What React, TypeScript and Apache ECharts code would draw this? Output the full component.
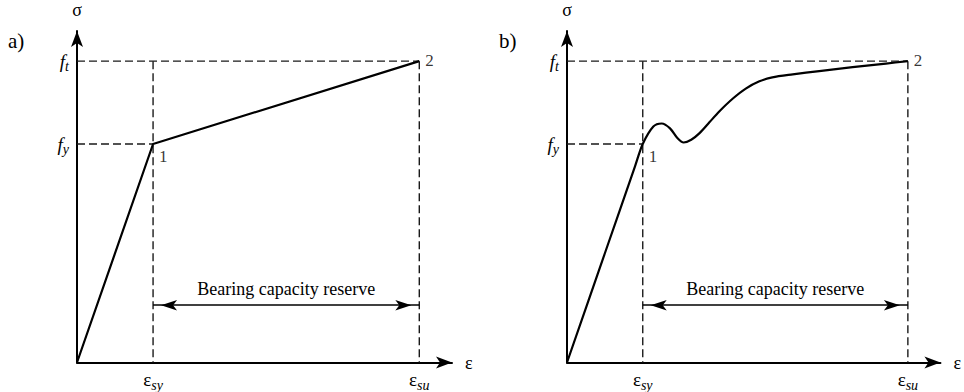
import React, { useEffect, useRef } from "react";
import * as echarts from "echarts";

// Characteristic strains and stresses (normalised: ε_sy = 1, f_t = 1)
const STRAIN_YIELD = 1.0; // ε_sy
const STRAIN_ULT = 4.5; // ε_su
const STRESS_YIELD = 0.725; // f_y
const STRESS_ULT = 1.0; // f_t

// Axis extents (arrow heads sit just past these)
const X_MAX = 4.93;
const Y_MAX = 1.1;
// Height of the "bearing capacity reserve" dimension arrow
const RESERVE_LEVEL = 0.19;

// a) idealised bilinear diagram
const bilinearCurve: [number, number][] = [
  [0, 0],
  [STRAIN_YIELD, STRESS_YIELD],
  [STRAIN_ULT, STRESS_ULT],
];

// b) real diagram with yield plateau dip and strain hardening
const realCurve: [number, number][] = [
  [0, 0],
  [0.5, 0.3625],
  [0.9, 0.6525],
  [STRAIN_YIELD, STRESS_YIELD],
  [1.14, 0.783],
  [1.25, 0.793],
  [1.36, 0.777],
  [1.46, 0.744],
  [1.54, 0.73],
  [1.64, 0.739],
  [1.75, 0.761],
  [1.88, 0.797],
  [2.01, 0.833],
  [2.19, 0.876],
  [2.36, 0.909],
  [2.54, 0.933],
  [2.71, 0.946],
  [2.98, 0.956],
  [3.33, 0.967],
  [3.77, 0.98],
  [4.21, 0.992],
  [STRAIN_ULT, STRESS_ULT],
];

const strainTicks = [STRAIN_YIELD, STRAIN_ULT];
const strainTickLabels = ["{e|ε}{s|sy}", "{e|ε}{s|su}"];
const stressTicks = [STRESS_YIELD, STRESS_ULT];
const stressTickLabels = ["{f|f}{s|y}", "{f|f}{s|t}"];
const pointLabels = ["1", "2"];
const panelLabels = ["a)", "b)"];
const reserveLabel = "Bearing capacity reserve";

const FONT = "'Liberation Serif', 'DejaVu Serif', serif";
const INK = "#000";
const GUIDE = "#1a1a1a";

const gridLefts = [77, 567];

const subRich = {
  e: { fontFamily: FONT, fontSize: 19, color: INK, lineHeight: 22 },
  f: { fontFamily: FONT, fontSize: 19, fontStyle: "italic", color: INK, lineHeight: 22 },
  s: {
    fontFamily: FONT,
    fontSize: 14,
    fontStyle: "italic",
    color: INK,
    lineHeight: 14,
    padding: [11, 0, 0, 0],
  },
};

function buildOption(): echarts.EChartsOption {
  const grids = gridLefts.map((left) => ({
    left,
    top: 31,
    width: 375,
    height: 336,
    containLabel: false,
  }));

  const xAxes = gridLefts.map((_, i) => ({
    type: "value" as const,
    gridIndex: i,
    min: 0,
    max: X_MAX,
    name: "ε",
    nameLocation: "end" as const,
    nameGap: 13,
    nameTextStyle: { fontFamily: FONT, fontSize: 18, color: INK, verticalAlign: "middle" as const },
    axisLine: {
      show: true,
      onZero: false,
      symbol: ["none", "arrow"],
      symbolSize: [9, 16],
      lineStyle: { color: INK, width: 2 },
    },
    axisTick: { show: false },
    splitLine: { show: false },
    axisLabel: {
      show: true,
      customValues: strainTicks,
      margin: 6,
      formatter: (v: number) => strainTickLabels[strainTicks.indexOf(v)] ?? "",
      rich: subRich,
    },
  }));

  const yAxes = gridLefts.map((_, i) => ({
    type: "value" as const,
    gridIndex: i,
    min: 0,
    max: Y_MAX,
    name: "σ",
    nameLocation: "end" as const,
    nameGap: 12,
    nameTextStyle: { fontFamily: FONT, fontSize: 18, color: INK, align: "center" as const },
    axisLine: {
      show: true,
      onZero: false,
      symbol: ["none", "arrow"],
      symbolSize: [9, 16],
      lineStyle: { color: INK, width: 2 },
    },
    axisTick: { show: false },
    splitLine: { show: false },
    axisLabel: {
      show: true,
      customValues: stressTicks,
      margin: 8,
      formatter: (v: number) => stressTickLabels[stressTicks.indexOf(v)] ?? "",
      rich: subRich,
    },
  }));

  const series: any[] = [];
  const curves = [bilinearCurve, realCurve];

  curves.forEach((curve, i) => {
    // dashed guide lines to the characteristic points
    const guides: [number, number][][] = [
      [
        [0, STRESS_ULT],
        [STRAIN_ULT, STRESS_ULT],
      ],
      [
        [0, STRESS_YIELD],
        [STRAIN_YIELD, STRESS_YIELD],
      ],
      [
        [STRAIN_YIELD, STRESS_ULT],
        [STRAIN_YIELD, 0],
      ],
      [
        [STRAIN_ULT, STRESS_ULT],
        [STRAIN_ULT, 0],
      ],
    ];
    guides.forEach((g) => {
      series.push({
        type: "line",
        xAxisIndex: i,
        yAxisIndex: i,
        data: g,
        symbol: "none",
        silent: true,
        lineStyle: { color: GUIDE, width: 1.4, type: [8, 4] },
        z: 1,
      });
    });

    // stress–strain curve
    series.push({
      type: "line",
      xAxisIndex: i,
      yAxisIndex: i,
      data: curve,
      symbol: "none",
      smooth: i === 1 ? 0.3 : false,
      lineStyle: { color: INK, width: 2.2 },
      z: 3,
      markLine: {
        silent: true,
        symbol: ["arrow", "arrow"],
        symbolSize: [8, 16],
        symbolOffset: [
          [0, 8],
          [0, 8],
        ],
        lineStyle: { color: INK, type: "solid", width: 1.6 },
        label: {
          show: true,
          position: "middle",
          formatter: reserveLabel,
          color: INK,
          fontFamily: FONT,
          fontSize: 18,
          distance: 7,
        },
        data: [
          [
            { coord: [STRAIN_YIELD, RESERVE_LEVEL] },
            { coord: [STRAIN_ULT, RESERVE_LEVEL] },
          ],
        ],
      },
    });

    // numbered characteristic points
    series.push({
      type: "scatter",
      xAxisIndex: i,
      yAxisIndex: i,
      symbolSize: 0,
      silent: true,
      data: [
        {
          value: [STRAIN_YIELD, STRESS_YIELD],
          label: { formatter: pointLabels[0], offset: [0, 12] },
        },
        {
          value: [STRAIN_ULT, STRESS_ULT],
          label: { formatter: pointLabels[1], offset: [0, -1] },
        },
      ],
      label: {
        show: true,
        position: "right",
        distance: 6,
        color: INK,
        fontFamily: FONT,
        fontSize: 17,
      },
      z: 4,
    });
  });

  return {
    animation: false,
    backgroundColor: "#fff",
    grid: grids,
    xAxis: xAxes,
    yAxis: yAxes,
    series,
    graphic: panelLabels.map((t, i) => ({
      type: "text",
      left: i === 0 ? 8 : 499,
      top: 30,
      style: { text: t, fontFamily: FONT, fontSize: 21, fill: INK },
    })),
  };
}

export default function App() {
  const ref = useRef<HTMLDivElement>(null);

  useEffect(() => {
    if (!ref.current) return;
    const chart = echarts.init(ref.current, undefined, { renderer: "svg" });
    chart.setOption(buildOption());
    return () => chart.dispose();
  }, []);

  return (
    <div
      ref={ref}
      style={{ position: "fixed", left: 0, top: 0, width: 964, height: 392, background: "#fff" }}
    />
  );
}
